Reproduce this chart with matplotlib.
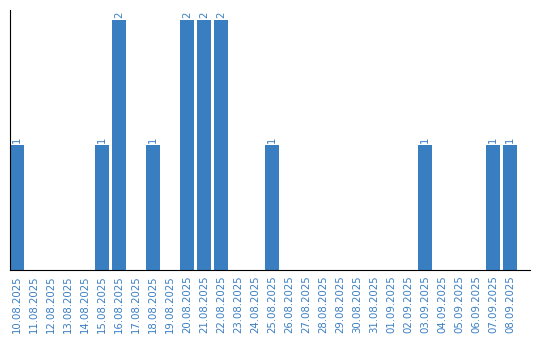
import matplotlib
matplotlib.use("Agg")
import matplotlib.pyplot as plt

dates = ["10.08.2025", "11.08.2025", "12.08.2025", "13.08.2025", "14.08.2025",
         "15.08.2025", "16.08.2025", "17.08.2025", "18.08.2025", "19.08.2025",
         "20.08.2025", "21.08.2025", "22.08.2025", "23.08.2025", "24.08.2025",
         "25.08.2025", "26.08.2025", "27.08.2025", "28.08.2025", "29.08.2025",
         "30.08.2025", "31.08.2025", "01.09.2025", "02.09.2025", "03.09.2025",
         "04.09.2025", "05.09.2025", "06.09.2025", "07.09.2025", "08.09.2025"]
counts = [1, 0, 0, 0, 0, 1, 2, 0, 1, 0, 2, 2, 2, 0, 0, 1, 0, 0, 0, 0,
          0, 0, 0, 0, 1, 0, 0, 0, 1, 1]

color = "#3a7ec2"
fig = plt.figure(figsize=(5.4, 3.4), dpi=100)
ax = fig.add_axes([10/540, 70/340, 520/540, 260/340])
x = list(range(len(dates)))
w = 14/17
ax.bar(x, counts, width=w, color=color)
for xi, v in zip(x, counts):
    if v > 0:
        ax.text(xi, v + 0.02, str(v), rotation=90, ha="center", va="bottom",
                color=color, fontsize=7.3)
ax.set_xlim(-w/2, -w/2 + 520/17)
ax.set_ylim(0, 2.08)
ax.set_xticks(x)
ax.set_xticklabels(dates, rotation=90, color=color, fontsize=7.3)
ax.tick_params(axis="x", length=0, pad=4)
ax.set_yticks([])
for s in ["top", "right"]:
    ax.spines[s].set_visible(False)
ax.spines["left"].set_color("black")
ax.spines["bottom"].set_color("black")
fig.savefig("out.png", dpi=100)
